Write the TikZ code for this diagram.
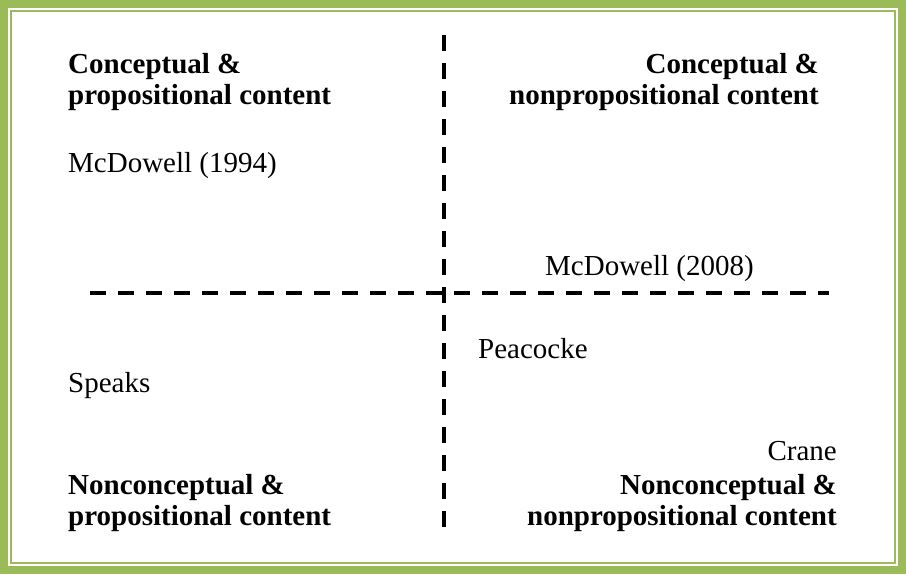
\documentclass[tikz,border=0pt]{standalone}
\usepackage{fontspec}
\setmainfont{Liberation Serif}
\definecolor{framegreen}{HTML}{9BBB59}
\begin{document}
\begin{tikzpicture}[x=1pt,y=-1pt,
  txt/.style={inner sep=0pt,font=\fontsize{29}{31.5}\selectfont},
  head/.style={txt,font=\fontsize{29}{31.5}\selectfont\bfseries},
  axis/.style={line width=3.2pt,dash pattern=on 16pt off 12pt}]
\useasboundingbox (0,0) rectangle (906,574);
\fill[white] (0,0) rectangle (906,574);
% frame
\draw[framegreen,line width=8pt] (4,4) rectangle (902,570);
\draw[framegreen,line width=2pt] (11,11) rectangle (895,563);
% axes
\coordinate (vt) at (444,35);
\coordinate (vb) at (444,527);
\coordinate (hl) at (90,293);
\coordinate (hr) at (829,293);
\draw[axis] (vt) -- (vb);
\draw[axis] (hl) -- (hr);
% top-left
\node[head,anchor=base west] (tl1) at (68,73) {Conceptual \&};
\node[head,anchor=base west] (tl2) at (68,104.5) {propositional content};
\node[txt,anchor=base west] (mc94) at (68,172) {McDowell (1994)};
% top-right
\node[head,anchor=base east] (tr1) at (819,73) {Conceptual \&};
\node[head,anchor=base east] (tr2) at (819,104.5) {nonpropositional content};
\node[txt,anchor=base west] (mc08) at (545,275) {McDowell (2008)};
% bottom-left
\node[txt,anchor=base west] (speaks) at (68,392) {Speaks};
\node[head,anchor=base west] (bl1) at (68,494) {Nonconceptual \&};
\node[head,anchor=base west] (bl2) at (68,525.5) {propositional content};
% bottom-right
\node[txt,anchor=base west] (peac) at (478,358) {Peacocke};
\node[txt,anchor=base east] (crane) at (837,460) {Crane};
\node[head,anchor=base east] (br1) at (837,494) {Nonconceptual \&};
\node[head,anchor=base east] (br2) at (837,525.5) {nonpropositional content};
\end{tikzpicture}
\end{document}
